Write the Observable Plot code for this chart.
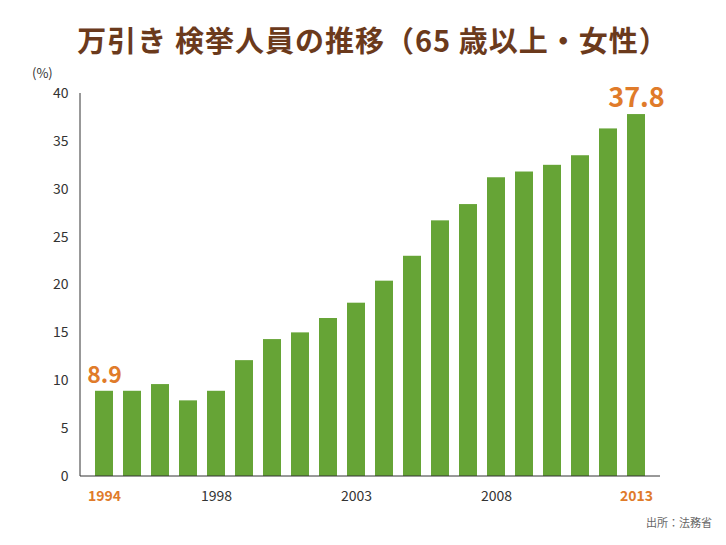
<!DOCTYPE html>
<html><head><meta charset="utf-8">
<script src="https://cdn.jsdelivr.net/npm/d3@7"></script>
<script src="https://cdn.jsdelivr.net/npm/@observablehq/plot@0.6"></script>
<style>
body{margin:0;background:#fff;font-family:"Noto Sans CJK JP",sans-serif;width:726px;height:545px;position:relative;overflow:hidden}
#title{position:absolute;top:18px;left:0;width:726px;text-align:center;font-size:29px;font-weight:bold;color:#6b3a1c;letter-spacing:1px;padding-left:20px;box-sizing:border-box}
#chart{position:absolute;top:70px;left:0}
#pct{position:absolute;left:32px;top:63px;font-size:13px;color:#333}
#cap{position:absolute;right:14px;top:514px;font-size:11px;color:#666}
</style></head><body>
<div id="title">万引き 検挙人員の推移（65 歳以上・女性）</div>
<div id="chart"></div>
<div id="pct">(%)</div>
<div id="cap">出所：法務省</div>
<script>
const years=[1994,1995,1996,1997,1998,1999,2000,2001,2002,2003,2004,2005,2006,2007,2008,2009,2010,2011,2012,2013];
const values=[8.9,8.9,9.6,7.9,8.9,12.1,14.3,15.0,16.5,18.1,20.4,23.0,26.7,28.4,31.2,31.8,32.5,33.5,36.3,37.8];
const tickYears=[1994,1998,2003,2008,2013];
const highlightYears=[1994,2013];
const yTicks=[0,5,10,15,20,25,30,35,40];
const data=years.map((y,i)=>({year:y,value:values[i]}));
const hl=data.filter(d=>highlightYears.includes(d.year));
const plain=tickYears.filter(y=>!highlightYears.includes(y));
const orange="#e07b2a";
const chart=Plot.plot({
  width:726,height:475,marginLeft:80,marginRight:66,marginTop:23,marginBottom:69,
  x:{type:"band",domain:years,paddingInner:0.35,paddingOuter:0.5,axis:null},
  y:{domain:[0,40],axis:null},
  style:{fontFamily:"'Noto Sans CJK JP',sans-serif",background:"white"},
  marks:[
    Plot.barY(data,{x:"year",y:"value",fill:"#66a436"}),
    Plot.axisY({ticks:yTicks,tickSize:0,tickPadding:12,fontSize:14,color:"#333",anchor:"left",label:null}),
    Plot.text(plain,{x:d=>d,y:0,text:d=>String(d),dy:20,fontSize:14,fill:"#333"}),
    Plot.text(highlightYears,{x:d=>d,y:0,text:d=>String(d),dy:20,fontSize:14,fontWeight:"bold",fill:orange}),
    Plot.text(hl,{x:"year",y:"value",text:d=>d.value.toFixed(1),dy:-16,fontWeight:"bold",fill:orange,fontSize:d=>d.year===2013?27:23})
  ]
});
const svg=d3.select(chart);
svg.append("line").attr("x1",80).attr("x2",80).attr("y1",23).attr("y2",406).attr("stroke","#333");
svg.append("line").attr("x1",80).attr("x2",660).attr("y1",406).attr("y2",406).attr("stroke","#333");
document.getElementById("chart").appendChild(chart);
</script></body></html>
